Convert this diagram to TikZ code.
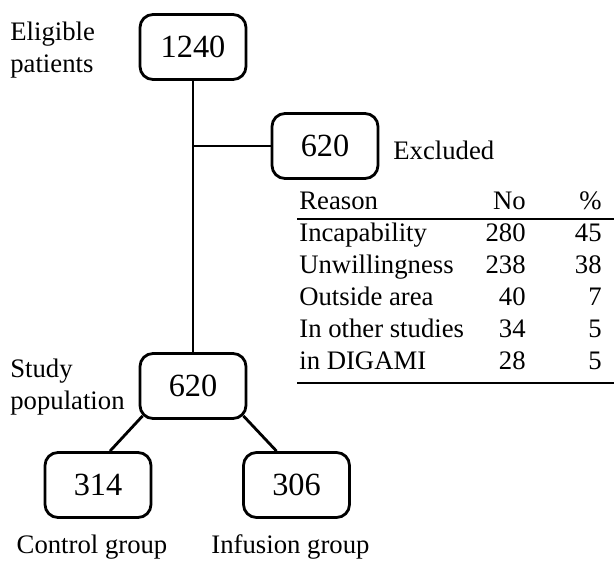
\documentclass[tikz,border=0pt]{standalone}
\usepackage{fontspec}
\setmainfont{Liberation Serif}
\usepackage{tikz}
\usetikzlibrary{calc,positioning}
\tikzset{
  countbox/.style={draw, line width=1.6pt, rounded corners=0.26cm,
    minimum width=2.12cm, minimum height=1.30cm, inner sep=0pt,
    font=\fontsize{18.4}{20}\selectfont},
  lbl/.style={inner sep=0pt, font=\fontsize{15.2}{18.2}\selectfont},
  link/.style={line width=1.6pt},
  tabrule/.style={line width=1.1pt}
}

\begin{document}
\begin{tikzpicture}
  \useasboundingbox (0,0) rectangle (12.28,11.2);
  % Flow boxes
  \node[countbox] (eligible) at (3.86,10.26) {1240};
  \node[countbox] (excluded) at (6.5,8.28) {620};
  \node[countbox] (study) at (3.86,3.48) {620};
  \node[countbox] (control) at (1.96,1.5) {314};
  \node[countbox] (infusion) at (5.93,1.5) {306};
  % Side labels
  \node[lbl, anchor=north west, align=left] (eligibleLbl) at (0.2,10.76)
    {Eligible\\patients};
  \node[lbl, anchor=north west, align=left] (studyLbl) at (0.2,4.02)
    {Study\\population};
  \node[lbl, anchor=base west] (excludedLbl) at (7.86,8.0) {Excluded};
  \node[lbl, anchor=base] (controlLbl) at (1.84,0.14) {Control group};
  \node[lbl, anchor=base] (infusionLbl) at (5.81,0.14) {Infusion group};
  % Connectors
  \coordinate (split) at (eligible |- excluded);
  \draw[link] (eligible.south) -- (study.north);
  \draw[link] (split) -- (excluded.west);
  \draw[link] ([shift={(0.08,0.08)}]study.south west)
    -- ([xshift=0.24cm]control.north);
  \draw[link] ([shift={(-0.08,0.08)}]study.south east)
    -- ([xshift=-0.4cm]infusion.north);
  % Exclusion table
  \node[lbl, anchor=base west] (reasonHead) at (5.98,7.0) {Reason};
  \node[lbl, anchor=base east] (countHead) at (10.52,7.0) {No};
  \node[lbl, anchor=base east] (shareHead) at (12.04,7.0) {\%};
  \foreach \why/\num/\pct [count=\i] in {Incapability/280/45,
      Unwillingness/238/38, Outside area/40/7, In other studies/34/5,
      in DIGAMI/28/5} {
    \node[lbl, anchor=base west] (reason\i) at (5.98,{7.0-0.636*\i}) {\why};
    \node[lbl, anchor=base east] (count\i) at (10.52,{7.0-0.636*\i}) {\num};
    \node[lbl, anchor=base east] (share\i) at (12.04,{7.0-0.636*\i}) {\pct};
  }
  \draw[tabrule] (5.94,6.82) -- (12.28,6.82);
  \draw[tabrule] (5.94,3.54) -- (12.28,3.54);
\end{tikzpicture}
\end{document}
